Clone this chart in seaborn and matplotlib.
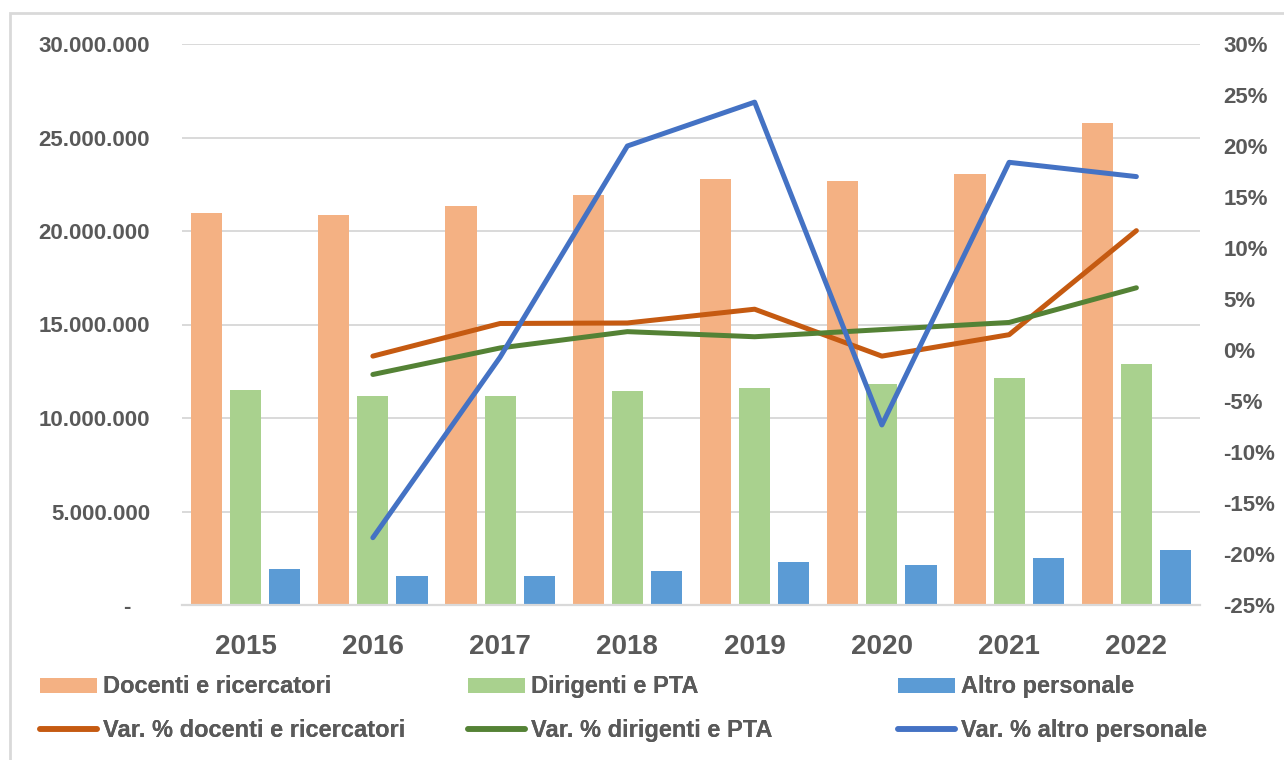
import numpy as np
import pandas as pd
import matplotlib
matplotlib.use('Agg')
from matplotlib import pyplot as plt
from matplotlib.patches import Patch, Rectangle
from matplotlib.lines import Line2D
from matplotlib.ticker import FuncFormatter
import seaborn as sns

# data
years = ['2015', '2016', '2017', '2018', '2019', '2020', '2021', '2022']
docenti = [20950000, 20850000, 21350000, 21900000, 22800000, 22700000, 23050000, 25800000]
dirigenti = [11500000, 11200000, 11200000, 11450000, 11600000, 11800000, 12150000, 12900000]
altro = [1910000, 1550000, 1550000, 1830000, 2280000, 2140000, 2500000, 2920000]
var_docenti = [np.nan, -0.6, 2.6, 2.65, 4.0, -0.6, 1.5, 11.7]
var_dirigenti = [np.nan, -2.4, 0.2, 1.8, 1.3, 2.0, 2.7, 6.1]
var_altro = [np.nan, -18.4, -0.7, 20.0, 24.3, -7.35, 18.4, 17.0]

bar_names = ['Docenti e ricercatori', 'Dirigenti e PTA', 'Altro personale']
line_names = ['Var. % docenti e ricercatori', 'Var. % dirigenti e PTA', 'Var. % altro personale']
bar_colors = ['#F4B183', '#A9D18E', '#5B9BD5']
line_colors = ['#C55A11', '#548235', '#4472C4']

df_bars = pd.DataFrame({
    'anno': years * 3,
    'serie': [n for n in bar_names for _ in years],
    'valore': docenti + dirigenti + altro,
})
pos = list(range(len(years)))
df_lines = pd.DataFrame({
    'pos': pos * 3,
    'serie': [n for n in line_names for _ in years],
    'var': var_docenti + var_dirigenti + var_altro,
})

sns.set_style('white')
plt.rcParams['font.family'] = ['Liberation Sans', 'DejaVu Sans']
txt = '#595959'
grid_c = '#D9D9D9'

fig = plt.figure(figsize=(12.84, 7.6), dpi=100)
W, H = 1284, 760
ax = fig.add_axes([182 / W, 1 - 605 / H, (1200 - 182) / W, (605 - 44) / H])

sns.barplot(data=df_bars, x='anno', y='valore', hue='serie',
            palette=bar_colors, saturation=1, width=0.92, gap=0.2,
            linewidth=0, legend=False, ax=ax)
ax.set_xlim(-0.5, len(years) - 0.5)
ax.set_ylim(0, 30000000)
ax.set_yticks(range(0, 30000001, 5000000))
ax.yaxis.set_major_formatter(FuncFormatter(
    lambda v, p: '-   ' if v == 0 else f'{int(v):,}'.replace(',', '.')))
ax.yaxis.grid(True, color=grid_c, lw=1.4)
ax.set_axisbelow(True)
for s in ['top', 'left', 'right']:
    ax.spines[s].set_visible(False)
ax.spines['bottom'].set_color(grid_c)
ax.spines['bottom'].set_linewidth(1.6)
ax.set_xlabel('')
ax.set_ylabel('')
ax.tick_params(axis='y', length=0, pad=23, labelsize=16, labelcolor=txt)
ax.tick_params(axis='x', length=0, pad=21, labelsize=20, labelcolor=txt)
for t in ax.get_yticklabels() + ax.get_xticklabels():
    t.set_fontweight('bold')

ax2 = ax.twinx()
sns.lineplot(data=df_lines, x='pos', y='var', hue='serie', palette=line_colors,
             lw=3.6, legend=False, ax=ax2,
             solid_capstyle='round', solid_joinstyle='round')
ax2.set_xlim(-0.5, len(years) - 0.5)
ax2.set_ylim(-25, 30)
ax2.set_yticks(range(-25, 31, 5))
ax2.yaxis.set_major_formatter(FuncFormatter(lambda v, p: f'{int(round(v))}%'))
for s in ['top', 'left', 'right', 'bottom']:
    ax2.spines[s].set_visible(False)
ax2.set_ylabel('')
ax2.tick_params(axis='y', length=0, pad=17, labelsize=16, labelcolor=txt)
for t in ax2.get_yticklabels():
    t.set_fontweight('bold')

# chart border (Excel style)
fig.add_artist(Rectangle((10 / W, -0.1), 1.2, 1.1 - 13 / H,
                         transform=fig.transFigure, fill=False,
                         edgecolor=grid_c, lw=2))

# legend: three columns, bar on top, line below
col_x = [40, 468, 898]
for i in range(3):
    handles = [Patch(facecolor=bar_colors[i], edgecolor='none'),
               Line2D([], [], color=line_colors[i], lw=4, solid_capstyle='round')]
    leg = fig.legend(handles, [bar_names[i], line_names[i]],
                     loc='center left', bbox_to_anchor=(col_x[i] / W, 1 - 708.5 / H),
                     frameon=False, borderpad=0, borderaxespad=0,
                     handlelength=2.4, handleheight=0.6, handletextpad=0.25,
                     labelspacing=0.85,
                     prop={'size': 17, 'weight': 'bold'}, labelcolor=txt)
    fig.add_artist(leg)

fig.savefig('out.png', dpi=100)
